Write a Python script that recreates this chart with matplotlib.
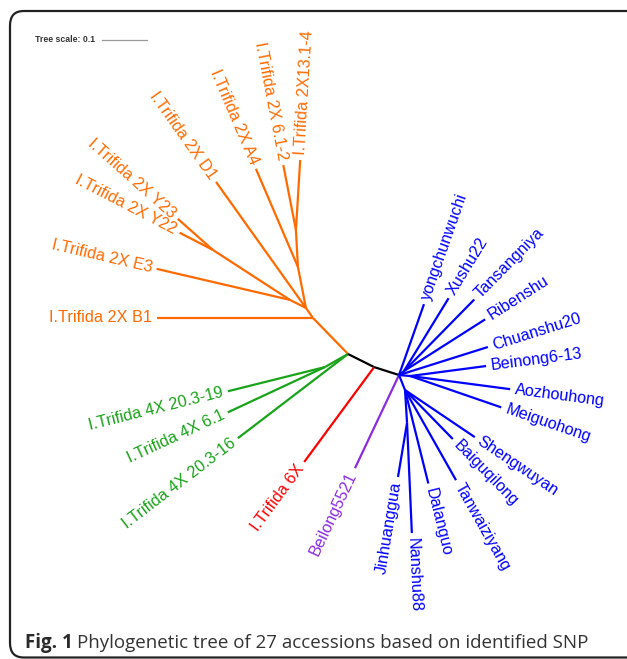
import numpy as np
import matplotlib.pyplot as plt
from matplotlib.patches import FancyBboxPatch

plt.rcParams['font.family'] = ['Liberation Sans', 'DejaVu Sans']

# arbol no enraizado: cada rama = hijo, padre, longitud (escala del arbol), angulo (grados)
hijos = ['O1', 'I.Trifida 2X B1', 'O2', 'O5', 'I.Trifida 2X E3', 'OY',
         'I.Trifida 2X Y23', 'I.Trifida 2X Y22', 'I.Trifida 2X D1', 'O3',
         'I.Trifida 2X A4', 'O4', 'I.Trifida 2X 6.1-2', 'I.Trifida 2X13.1-4',
         'G1', 'I.Trifida 4X 20.3-19', 'I.Trifida 4X 6.1', 'I.Trifida 4X 20.3-16',
         'K', 'I.Trifida 6X', 'B', 'Beilong5521',
         'yongchunwuchi', 'BT', 'Xushu22', 'Tansangniya', 'Ribenshu', 'Chuanshu20',
         'BM', 'Beinong6-13', 'Aozhouhong', 'Meiguohong',
         'BB', 'Shengwuyan', 'Baiguqilong', 'Tanwaiziyang', 'Dalanguo',
         'BJ', 'Jinhuanggua', 'Nanshu88']
padres = ['A', 'O1', 'O1', 'O2', 'O5', 'O5',
          'OY', 'OY', 'O2', 'O2',
          'O3', 'O3', 'O4', 'O4',
          'A', 'G1', 'G1', 'A',
          'A', 'K', 'K', 'B',
          'B', 'B', 'BT', 'BT', 'BT', 'B',
          'B', 'BM', 'BM', 'BM',
          'B', 'BB', 'BB', 'BB', 'BB',
          'BB', 'BJ', 'BJ']
longitudes = [0.112, 0.347, 0.027, 0.040, 0.304, 0.204,
              0.104, 0.083, 0.344, 0.093,
              0.237, 0.082, 0.147, 0.156,
              0.059, 0.222, 0.238, 0.308,
              0.065, 0.262, 0.058, 0.229,
              0.167, 0.014, 0.190, 0.223, 0.214, 0.207,
              0.025, 0.170, 0.224, 0.214,
              0.036, 0.187, 0.152, 0.230, 0.214,
              0.073, 0.122, 0.245]
angulos = [134.2, 180.0, 125.0, 153.4, 166.9, 147.0,
           138.5, 152.7, 125.5, 101.0,
           113.2, 93.1, 101.0, 86.5,
           209.5, 194.0, 205.0, 217.4,
           -26.6, 233.6, -17.7, 244.7,
           70.6, 38.7, 58.5, 45.5, 32.5, 17.5,
           -5.0, 7.5, -7.5, -19.0,
           -68.2, -34.0, -45.7, -60.5, -76.0,
           -86.5, -99.5, -87.5]
grupos = ['2X'] * 14 + ['4X'] * 4 + ['interno', '6X', 'interno', 'Beilong'] + ['batata'] * 18

colores = {'2X': '#ff6a00', '4X': '#19a319', '6X': '#ff0000',
           'Beilong': '#8a2be2', 'batata': '#0000ff', 'interno': 'black'}
internos = {'A', 'O1', 'O2', 'O3', 'O4', 'O5', 'OY', 'G1', 'K', 'B', 'BT', 'BM', 'BB', 'BJ'}

# posiciones de los nodos a partir de longitudes y angulos
pos = {'A': (0.0, 0.0)}
for h, p, l, a in zip(hijos, padres, longitudes, angulos):
    x0, y0 = pos[p]
    pos[h] = (x0 + l * np.cos(np.radians(a)), y0 + l * np.sin(np.radians(a)))

fig = plt.figure(figsize=(6.27, 6.59), dpi=100)
ax = fig.add_axes([0, 0, 1, 1])
ax.set_xlim(-348 / 450, 279 / 450)
ax.set_ylim(-305 / 450, 354 / 450)
ax.axis('off')

hueco = 0.011
for h, p, a, g in zip(hijos, padres, angulos, grupos):
    x0, y0 = pos[p]
    x1, y1 = pos[h]
    ax.plot([x0, x1], [y0, y1], color=colores[g], lw=1.6, solid_capstyle='butt')
    if h in internos:
        continue
    c, s = np.cos(np.radians(a)), np.sin(np.radians(a))
    if c >= -1e-9:
        rot, ha = a, 'left'
    else:
        rot, ha = a - 180, 'right'
    rot = (rot + 180) % 360 - 180
    ax.text(x1 + hueco * c, y1 + hueco * s, h, color=colores[g], fontsize=11.7,
            rotation=rot, ha=ha, va='center', rotation_mode='anchor')

# escala del arbol
xs = ax.get_xlim()[0] + 102 / 450
ys = ax.get_ylim()[1] - 39.5 / 450
ax.plot([xs, xs + 0.1], [ys, ys], color='#999999', lw=0.9)
ax.text(xs - 7 / 450, ys, 'Tree scale: 0.1', fontsize=6.3, fontweight='bold',
        color='#333333', ha='right', va='center')

# marco redondeado
marco = FancyBboxPatch((10 / 627, 1.5 / 659), 640 / 627, 646.5 / 659,
                       boxstyle='round,pad=0,rounding_size=0.022',
                       transform=fig.transFigure, fill=False, lw=1.6,
                       ec='#222222', clip_on=False)
fig.add_artist(marco)

# pie de figura
t1 = fig.text(25 / 627, 11 / 659, 'Fig. 1', fontsize=13.5, fontweight='bold',
              family=['Open Sans', 'DejaVu Sans'], color='#2a2a2a', va='baseline')
fig.canvas.draw()
bb = t1.get_window_extent()
fig.text(bb.x1 / 627 + 4 / 627, 11 / 659, 'Phylogenetic tree of 27 accessions based on identified SNP',
         fontsize=13.5, family=['Open Sans', 'DejaVu Sans'], color='#333333', va='baseline')

fig.savefig('out.png', dpi=100)
